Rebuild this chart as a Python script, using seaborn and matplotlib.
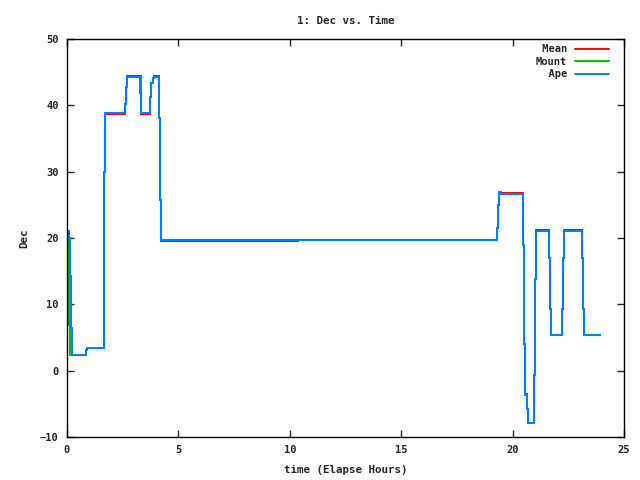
import pandas as pd
import matplotlib
matplotlib.use('Agg')
import matplotlib.pyplot as plt
import seaborn as sns

# step points (elapsed hours, Dec)
ape_t = [0.0, 0.08, 0.14, 0.19, 0.24, 0.84, 0.9, 1.65, 1.72, 2.6, 2.63, 2.68,
         3.28, 3.32, 3.72, 3.77, 3.84, 3.89, 4.14, 4.17, 4.22, 19.32, 19.36,
         19.4, 19.46, 20.48, 20.52, 20.57, 20.66, 20.7, 20.97, 21.01, 21.07,
         21.64, 21.69, 21.73, 22.22, 22.27, 22.31, 23.12, 23.16, 23.21, 23.92]
ape_v = [21.0, 20.0, 14.2, 6.4, 2.4, 3.1, 3.4, 30.0, 38.9, 40.2, 42.8, 44.2,
         41.9, 38.9, 41.2, 43.3, 44.1, 44.2, 38.1, 25.8, 19.7, 21.5, 25.0,
         26.9, 26.7, 19.0, 4.0, -3.6, -5.8, -7.9, -0.65, 13.8, 21.0,
         17.0, 9.25, 5.33, 9.3, 17.0, 21.0, 17.0, 9.25, 5.33, 5.33]

mount_t = [0.0, 0.06, 0.1, 0.15, 0.84, 0.9, 1.65, 1.72, 2.6, 2.63, 2.68,
           3.3, 3.72, 3.77, 3.84, 3.89, 4.14, 4.17, 4.22, 19.32, 19.36,
           19.4, 19.46, 20.48, 20.52, 20.57, 20.66, 20.7, 20.97, 21.01, 21.07,
           21.64, 21.69, 21.73, 22.22, 22.27, 22.31, 23.12, 23.16, 23.21, 23.92]
mount_v = [21.0, 16.4, 6.9, 2.4, 3.1, 3.4, 30.0, 38.9, 40.2, 42.8, 44.2,
           38.9, 41.2, 43.3, 44.1, 44.2, 38.1, 25.8, 19.7, 21.5, 25.0,
           26.9, 26.7, 19.0, 4.0, -3.6, -5.8, -7.9, -0.65, 13.8, 21.0,
           17.0, 9.25, 5.33, 9.3, 17.0, 21.0, 17.0, 9.25, 5.33, 5.33]

mean_t = [-0.1, 0.07, 0.12, 0.17, 0.24, 0.84, 0.9, 1.65, 1.72, 2.6, 2.63,
          2.68, 3.3, 3.72, 3.77, 3.84, 3.89, 4.14, 4.17, 4.22, 10.35, 19.32,
          19.36, 19.4, 20.48, 20.52, 20.57, 20.66, 20.7, 20.97, 21.01, 21.07,
          21.64, 21.69, 21.73, 22.22, 22.27, 22.31, 23.12, 23.16, 23.21, 23.92]
mean_v = [21.1, 18.3, 10.6, 4.6, 2.4, 3.1, 3.4, 30.0, 38.75, 40.2, 42.8,
          44.35, 38.75, 41.2, 43.3, 44.1, 44.35, 38.1, 25.8, 19.55, 19.7, 21.5,
          25.0, 26.85, 19.0, 4.0, -3.5, -5.8, -7.9, -0.65, 13.8, 21.15,
          17.0, 9.25, 5.33, 9.3, 17.0, 21.15, 17.0, 9.25, 5.33, 5.33]

sns.set_style('ticks')
plt.rcParams['font.family'] = ['DejaVu Sans Mono']
plt.rcParams['font.weight'] = 'bold'

fig = plt.figure(figsize=(6.4, 4.8), dpi=100)
ax = fig.add_axes([67 / 640, 1 - 437 / 480, 557 / 640, 398 / 480])

series = [('Mean', mean_t, mean_v, '#ff0000'),
          ('Mount', mount_t, mount_v, '#00c000'),
          ('Ape', ape_t, ape_v, '#0080ff')]
for name, t, v, col in series:
    d = pd.DataFrame({'t': t, 'v': v})
    sns.lineplot(data=d, x='t', y='v', ax=ax, color=col, linewidth=1.4,
                 drawstyle='steps-post', label=name.rjust(5), estimator=None,
                 sort=False, antialiased=False)

ax.set_xlim(0, 25)
ax.set_ylim(-10, 50)
ax.set_xticks(range(0, 26, 5))
ax.set_yticks(range(-10, 51, 10))
ax.tick_params(direction='in', top=True, right=True, length=5, width=1,
               labelsize=7.5, pad=6)
for s in ax.spines.values():
    s.set_visible(True)
    s.set_linewidth(1)
    s.set_color('black')

ax.set_title('1: Dec vs. Time', fontsize=7.8, fontweight='bold', pad=11)
ax.set_xlabel('time (Elapse Hours)', fontsize=7.8, fontweight='bold', labelpad=7)
ax.set_ylabel('Dec', fontsize=7.8, fontweight='bold', labelpad=8)

leg = ax.legend(loc='upper right', bbox_to_anchor=(1 - 10 / 557, 1),
                frameon=False, markerfirst=False,
                handlelength=3.2, borderaxespad=0.1,
                labelspacing=0.25, handletextpad=0.8,
                prop={'family': 'DejaVu Sans Mono', 'weight': 'bold', 'size': 7.5})

fig.savefig('out.png', dpi=100)
